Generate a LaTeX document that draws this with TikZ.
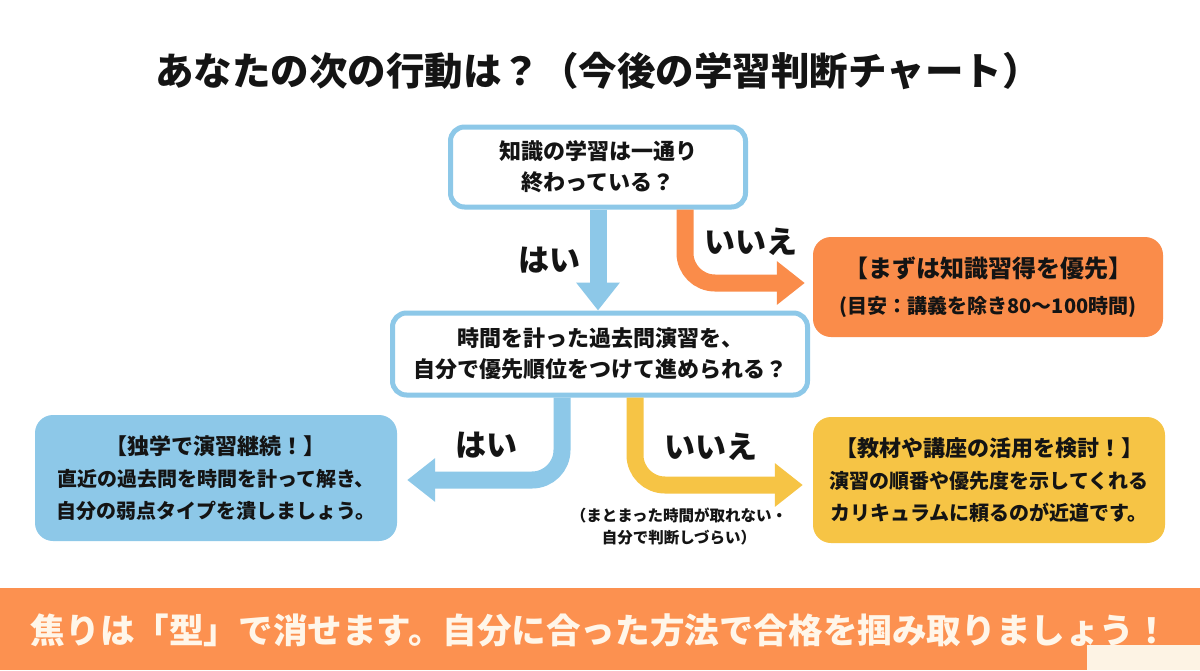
\documentclass[tikz,border=0pt]{standalone}
\usepackage{fontspec}
\setmainfont{Noto Sans CJK JP}
\usetikzlibrary{arrows.meta}
\definecolor{skyb}{HTML}{8DC8E8}
\definecolor{orng}{HTML}{FA8C4A}
\definecolor{yelw}{HTML}{F6C445}
\definecolor{bnr}{HTML}{FC9150}
\definecolor{crm}{HTML}{FFF6E9}
\definecolor{crmbox}{HTML}{FDF3E4}
\definecolor{ink}{HTML}{141414}
\newcommand{\jsize}[2]{\fontsize{#1}{#2}\selectfont}
\begin{document}
\begin{tikzpicture}[x=1pt,y=-1pt,
    qbox/.style={draw=skyb,line width=5pt,fill=white,rounded corners=14pt,
        align=center,text=ink,font=\bfseries\jsize{22}{31}},
    ansbox/.style={rounded corners=18pt,align=center,text=ink,inner sep=0pt},
    lbl/.style={text=ink,font=\bfseries\jsize{31}{31}},
    flow/.style={line width=17pt,rounded corners=30pt,
        -{Triangle[length=28pt,width=42pt]}}]
    \useasboundingbox (0,0) rectangle (1200,670);
    \fill[white] (0,0) rectangle (1200,670);
    % title
    \node[text=ink,font=\bfseries\jsize{38.5}{38.5}] (title) at (598,71)
        {あなたの次の行動は？（今後の学習判断チャート）};
    % questions
    \node[qbox,minimum width=295pt,minimum height=80pt] (q1) at (598,167)
        {知識の学習は一通り\\終わっている？};
    \node[qbox,minimum width=415pt,minimum height=82pt] (q2) at (600,354)
        {時間を計った過去問演習を、\\自分で優先順位をつけて進められる？};
    % results
    \node[ansbox,fill=orng,minimum width=350pt,minimum height=100pt,
        font=\bfseries\jsize{24}{36}] (res1) at (988,287)
        {【まずは知識習得を優先】\\{\jsize{20}{26}(目安：講義を除き80〜100時間)}};
    \node[ansbox,fill=skyb,minimum width=362pt,minimum height=126pt,
        font=\bfseries\jsize{20}{32}] (res2) at (216,478)
        {{\jsize{22}{32}【独学で演習継続！】}\\直近の過去問を時間を計って解き、\\自分の弱点タイプを潰しましょう。};
    \node[ansbox,fill=yelw,minimum width=352pt,minimum height=126pt,
        font=\bfseries\jsize{20}{32}] (res3) at (989,480)
        {{\jsize{22}{32}【教材や講座の活用を検討！】}\\演習の順番や優先度を示してくれる\\カリキュラムに頼るのが近道です。};
    % connectors
    \draw[flow,draw=skyb] (q1.south) -- (q1.south |- q2.north);
    \draw[flow,draw=orng] ([xshift=87pt]q1.south) |- ([xshift=-8pt,yshift=4pt]res1.west);
    \draw[flow,draw=skyb] ([xshift=-38pt]q2.south) |- ([xshift=10pt,yshift=-2pt]res2.east);
    \draw[flow,draw=yelw] ([xshift=35pt]q2.south) |- ([xshift=-10pt,yshift=-5pt]res3.west);
    % answers
    \node[lbl] (yes1) at (549,260) {はい};
    \node[lbl] (no1) at (751,242) {いいえ};
    \node[lbl] (yes2) at (486,445) {はい};
    \node[lbl] (no2) at (711,447) {いいえ};
    \node[text=ink,font=\bfseries\jsize{15.5}{22},align=center] (note) at (679,526)
        {（まとまった時間が取れない・\\自分で判断しづらい）};
    % banner
    \fill[bnr] (0,588) rectangle (1200,670);
    \node[text=crm,font=\bfseries\jsize{34.6}{34.6}] (slogan) at (600,630)
        {焦りは「型」で消せます。自分に合った方法で合格を掴み取りましょう！};
    \fill[crmbox] (1087,645) rectangle (1200,670);
\end{tikzpicture}
\end{document}
